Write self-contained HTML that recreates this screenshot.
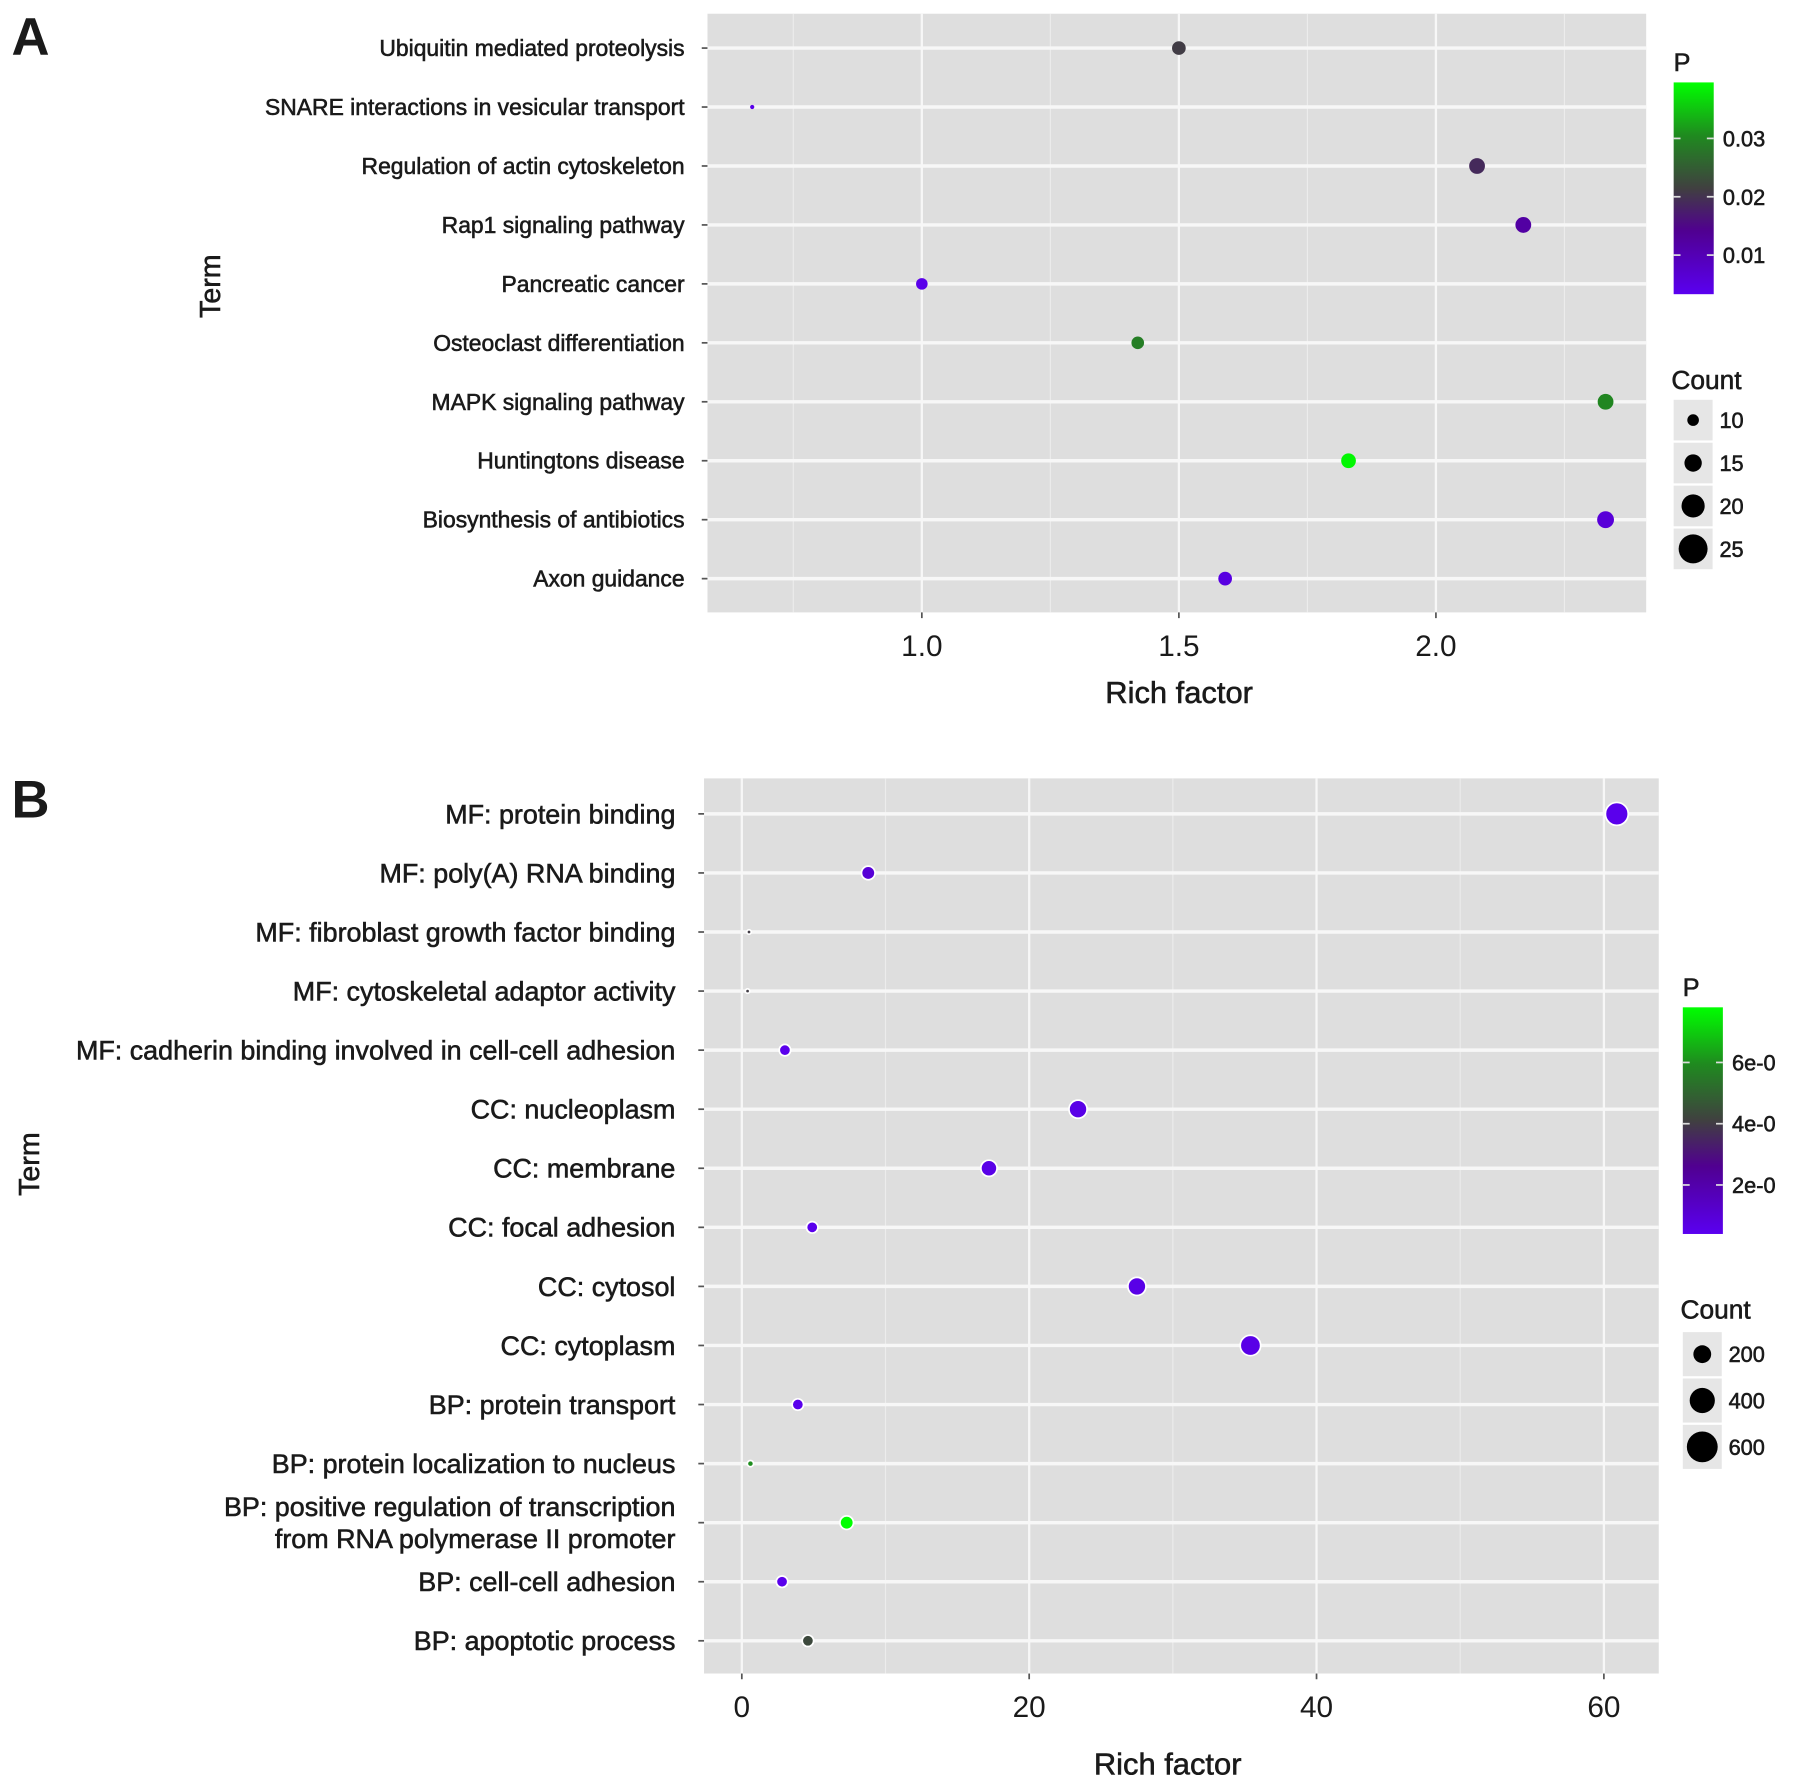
<!DOCTYPE html>
<html><head><meta charset="utf-8"><style>
html,body{margin:0;padding:0;background:#fff}
svg{display:block}
text{font-family:"Liberation Sans",Arial,sans-serif;fill:#1a1a1a}
.lab{stroke:#1a1a1a;stroke-width:0.5}
</style></head><body>
<svg id="fig" width="1795" height="1788" viewBox="0 0 1568 1562" preserveAspectRatio="none" xmlns="http://www.w3.org/2000/svg">
<defs>
<linearGradient id="gA" x1="0" y1="1" x2="0" y2="0">
<stop offset="0" stop-color="#5a00f0"/><stop offset="0.3" stop-color="#500090"/><stop offset="0.5" stop-color="#404040"/><stop offset="0.75" stop-color="#1f8a1f"/><stop offset="1" stop-color="#00ff00"/>
</linearGradient>
</defs>
<g id="A"></g>
<g id="B"></g>
</svg>
<script>
// Panel A data
const termsA = ["Ubiquitin mediated proteolysis","SNARE interactions in vesicular transport","Regulation of actin cytoskeleton","Rap1 signaling pathway","Pancreatic cancer","Osteoclast differentiation","MAPK signaling pathway","Huntingtons disease","Biosynthesis of antibiotics","Axon guidance"];
const richA = [1.50,0.67,2.08,2.17,1.00,1.42,2.33,1.83,2.33,1.59];
const countA = [13,4,15,15,11,12,15,14,16,13];
const pA = [0.021,0.004,0.019,0.012,0.004,0.029,0.030,0.039,0.006,0.005];
const xTicksA = [1.0,1.5,2.0];
const xTickLabelsA = ["1.0","1.5","2.0"];
const pTicksA = [0.01,0.02,0.03];
const pTickLabelsA = ["0.01","0.02","0.03"];
const countLegendA = [10,15,20,25];
// Panel B data
const termsB = ["MF: protein binding","MF: poly(A) RNA binding","MF: fibroblast growth factor binding","MF: cytoskeletal adaptor activity","MF: cadherin binding involved in cell-cell adhesion","CC: nucleoplasm","CC: membrane","CC: focal adhesion","CC: cytosol","CC: cytoplasm","BP: protein transport","BP: protein localization to nucleus","BP: positive regulation of transcription|from RNA polymerase II promoter","BP: cell-cell adhesion","BP: apoptotic process"];
const richB = [60.9,8.8,0.5,0.4,3.0,23.4,17.2,4.9,27.5,35.4,3.9,0.6,7.3,2.8,4.6];
const countB = [400,140,15,15,100,250,200,100,250,320,100,30,140,100,100];
const pB = [0.5,1.0,4.0,4.0,0.5,0.6,0.6,0.5,0.6,0.6,0.5,6.0,7.8,0.5,4.3];
const xTicksB = [0,20,40,60];
const xTickLabelsB = ["0","20","40","60"];
const pTicksB = [2,4,6];
const pTickLabelsB = ["2e-0","4e-0","6e-0"];
const countLegendB = [200,400,600];

const NS="http://www.w3.org/2000/svg";
function mk(parent,tag,attrs,txt){const e=document.createElementNS(NS,tag);for(const k in attrs)e.setAttribute(k,attrs[k]);if(txt!=null)e.textContent=txt;parent.appendChild(e);return e;}
function hex(h){return [parseInt(h.slice(1,3),16),parseInt(h.slice(3,5),16),parseInt(h.slice(5,7),16)];}
const stops=[[0,"#5a00f0"],[0.3,"#500090"],[0.5,"#404040"],[0.75,"#1f8a1f"],[1,"#00ff00"]];
function colorAt(t){t=Math.max(0,Math.min(1,t));for(let i=1;i<stops.length;i++){if(t<=stops[i][0]){const a=hex(stops[i-1][1]),b=hex(stops[i][1]);const f=(t-stops[i-1][0])/(stops[i][0]-stops[i-1][0]);return "rgb("+a.map((v,j)=>Math.round(v+(b[j]-v)*f)).join(",")+")";}}return stops[4][1];}

function panel(g,cfg){
  const {x0,x1,y0,y1,xmin,xmax,row0,rowStep,terms,rich,count,p,xt,xtl,pt,ptl,pmin,pmax,cl,rfun,fs,letter,letterY,termX,termY,barX,barY0,barY1,legPY,cntTitleY,cntY,outline,gap}=cfg;
  const sx=v=>x0+(v-xmin)/(xmax-xmin)*(x1-x0);
  const sy=i=>row0+i*rowStep;
  const bg=mk(g,"rect",{x:x0,y:y0,width:x1-x0,height:y1-y0,fill:"#dedede"});
  
  
  const step=xt[1]-xt[0];
  for(let v=xt[0]-step/2;v<=xmax+1e-9;v+=step){if(v>=xmin){const l=mk(g,"line",{x1:sx(v),x2:sx(v),y1:y0,y2:y1,stroke:"#ececec","stroke-width":1});}}
  xt.forEach((v,i)=>{
    const l=mk(g,"line",{x1:sx(v),x2:sx(v),y1:y0,y2:y1,stroke:"#f7f7f7","stroke-width":2});
    
    
    mk(g,"line",{x1:sx(v),x2:sx(v),y1:y1,y2:y1+5,stroke:"#555","stroke-width":1.5});
    const t=mk(g,"text",{x:sx(v),y:y1+38,"text-anchor":"middle","font-size":26,fill:"#333"},xtl[i]);
    
    
  });
  terms.forEach((name,i)=>{
    const y=sy(i);
    const l=mk(g,"line",{x1:x0,x2:x1,y1:y,y2:y,stroke:"#f7f7f7","stroke-width":3});
    
    
    mk(g,"line",{x1:x0-5,x2:x0,y1:y,y2:y,stroke:"#555","stroke-width":1.5});
    const parts=name.split("|");
    const t=mk(g,"text",{x:x0-gap,y:y+fs*0.35-(parts.length-1)*fs*0.6,"text-anchor":"end","font-size":fs,"class":"lab"},null);
    
    
    parts.forEach((s,k)=>{mk(t,"tspan",{x:x0-gap,dy:k?fs*1.2:0},s);});
  });
  terms.forEach((name,i)=>{
    const c=mk(g,"circle",{cx:sx(rich[i]),cy:sy(i),r:rfun(count[i]),fill:colorAt((p[i]-pmin)/(pmax-pmin)),stroke:outline?"#fff":"none","stroke-width":outline?1.5:0});
    
    
  });
  const L=mk(g,"text",{x:10,y:letterY,"font-size":46,"font-weight":"bold",fill:"#000"},letter);
  
  
  const xl=mk(g,"text",{x:cfg.xTitleX,y:cfg.xTitleY,"text-anchor":"middle","font-size":27,fill:"#222","class":"lab"},"Rich factor");
  
  
  const yl=mk(g,"text",{x:0,y:0,"text-anchor":"middle","font-size":25,transform:`translate(${termX},${termY}) rotate(-90)`,fill:"#222","class":"lab"},"Term");
  
  
  const pt0=mk(g,"text",{x:barX,y:legPY,"font-size":22,fill:"#222","class":"lab"},"P");
  
  
  const bar=mk(g,"rect",{x:barX,y:barY0,width:35,height:barY1-barY0,fill:"url(#gA)"});
  
  
  const py=v=>barY1-(v-pmin)/(pmax-pmin)*(barY1-barY0);
  pt.forEach((v,i)=>{
    mk(g,"line",{x1:barX,x2:barX+6,y1:py(v),y2:py(v),stroke:"#ddd","stroke-width":1.5});
    mk(g,"line",{x1:barX+29,x2:barX+35,y1:py(v),y2:py(v),stroke:"#ddd","stroke-width":1.5});
    const t=mk(g,"text",{x:barX+43,y:py(v)+7,"font-size":19,fill:"#222","class":"lab"},ptl[i]);
    
    
  });
  const ct=mk(g,"text",{x:barX-2,y:cntTitleY,"font-size":23,fill:"#222","class":"lab"},"Count");
  
  
  cl.forEach((v,i)=>{
    const cy=cntY+i*cfg.cntStep;
    mk(g,"rect",{x:barX,y:cy-cfg.cntStep/2+1,width:34,height:cfg.cntStep-2,fill:"#e6e6e6"});
    const c=mk(g,"circle",{cx:barX+17,cy:cy,r:rfun(v)*cfg.legScale,fill:"#000"});
    
    
    const t=mk(g,"text",{x:barX+40,y:cy+7,"font-size":19,fill:"#222","class":"lab"},String(v));
    
    
  });
}
panel(document.getElementById("A"),{x0:618,x1:1438,y0:12,y1:535,xmin:0.583,xmax:2.409,row0:42,rowStep:51.5,terms:termsA,rich:richA,count:countA,p:pA,xt:xTicksA,xtl:xTickLabelsA,pt:pTicksA,ptl:pTickLabelsA,pmin:0.0033,pmax:0.0396,cl:countLegendA,rfun:c=>0.46*c,fs:20,gap:20,letter:"A",letterY:48,termX:192,termY:250,xTitleX:1030,xTitleY:614,barX:1462,barY0:72,barY1:257,legPY:62,cntTitleY:340,cntY:367,cntStep:37.5,outline:false,legScale:1.1});
panel(document.getElementById("B"),{x0:615,x1:1449,y0:680,y1:1462,xmin:-2.63,xmax:63.82,row0:711,rowStep:51.6,terms:termsB,rich:richB,count:countB,p:pB,xt:xTicksB,xtl:xTickLabelsB,pt:pTicksB,ptl:pTickLabelsB,pmin:0.4,pmax:7.8,cl:countLegendB,rfun:c=>0.5*Math.sqrt(c),fs:23.5,gap:25,letter:"B",letterY:714,termX:34,termY:1017,xTitleX:1020,xTitleY:1550,barX:1470,barY0:880,barY1:1078,legPY:870,cntTitleY:1152,cntY:1183,cntStep:40.5,outline:true,legScale:1.1});
</script>
</body></html>
